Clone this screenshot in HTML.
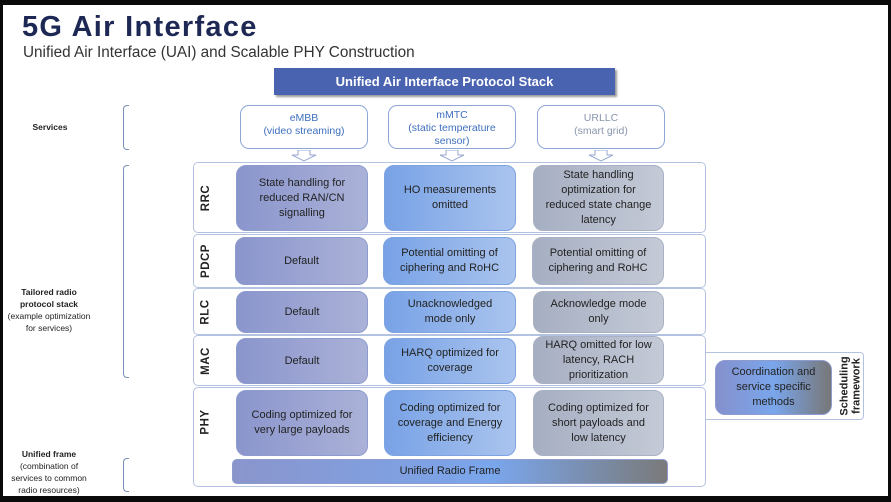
<!DOCTYPE html>
<html><head><meta charset="utf-8"><style>
*{margin:0;padding:0;box-sizing:border-box}
body{width:891px;height:502px;background:#0a0a0a;position:relative;overflow:hidden;font-family:"Liberation Sans",sans-serif}
.pg{position:absolute;left:3px;top:5px;width:885px;height:491px;background:#fff}
.a{position:absolute}
.t{font-family:"Liberation Sans",sans-serif;color:#333}
.cell{position:absolute;border-radius:10px;display:flex;align-items:center;justify-content:center;text-align:center;font-size:11px;line-height:15px;color:#222;border:1px solid #8d9bcf}
.c1{background:linear-gradient(90deg,#8a95cc,#abb2d8)}
.c2{background:linear-gradient(90deg,#78a2e6,#aac4ee);border-color:#7ea3e0}
.c3{background:linear-gradient(90deg,#a6aec2,#c4cad6);border-color:#a9b1c4}
.row{position:absolute;left:193px;width:513px;border:1px solid #b4c2e2;border-radius:5px;background:#fff}
.lab{position:absolute;left:196px;width:20px;display:flex;align-items:center;justify-content:center}
.lab span{transform:rotate(-90deg);font-size:11.5px;font-weight:bold;color:#222;white-space:nowrap;letter-spacing:.5px}
.svc{position:absolute;top:105px;width:128px;height:44px;border:1px solid #8ea6d6;border-radius:9px;text-align:center;font-size:10.5px;line-height:13px;color:#3e6fbf;padding-top:6px}
.arr{position:absolute;top:150px;width:26px;height:12px}
.small{position:absolute;font-size:8.5px;line-height:12px;color:#222;text-align:center}
.br{position:absolute;border:1px solid #7b8fb8;border-right:none;width:6px;border-radius:4px 0 0 4px}
</style></head><body>
<div class="pg"></div>
<div class="a" style="left:22px;top:11px;font-size:29px;font-weight:bold;color:#1e2854;letter-spacing:1.3px">5G Air Interface</div>
<div class="a t" style="left:23px;top:44px;font-size:15.3px;color:#333">Unified Air Interface (UAI) and Scalable PHY Construction</div>
<div class="a" style="left:274px;top:68px;width:341px;height:27px;background:#4a63b0;box-shadow:2px 2px 2px #999;color:#fff;font-weight:bold;font-size:13px;display:flex;align-items:center;justify-content:center">Unified Air Interface Protocol Stack</div>

<div class="small" style="left:30px;top:121px;width:40px;font-weight:bold">Services</div>
<div class="br" style="left:123px;top:105px;height:45px"></div>
<div class="small" style="left:5px;top:286px;width:88px"><b>Tailored radio protocol stack</b><br>(example optimization for services)</div>
<div class="br" style="left:123px;top:165px;height:213px"></div>
<div class="small" style="left:5px;top:448px;width:88px"><b>Unified frame</b><br>(combination of services to common radio resources)</div>
<div class="br" style="left:123px;top:458px;height:34px"></div>

<div class="svc" style="left:240px">eMBB<br>(video streaming)</div>
<div class="svc" style="left:388px;padding-top:3px">mMTC<br>(static temperature<br>sensor)</div>
<div class="svc" style="left:537px;color:#8a96ad">URLLC<br>(smart grid)</div>
<svg class="arr" style="left:291px" viewBox="0 0 26 12"><path d="M7 0H19V5H25L13 11L1 5H7Z" fill="#fff" stroke="#9aaad0"/></svg>
<svg class="arr" style="left:439px" viewBox="0 0 26 12"><path d="M7 0H19V5H25L13 11L1 5H7Z" fill="#fff" stroke="#9aaad0"/></svg>
<svg class="arr" style="left:588px" viewBox="0 0 26 12"><path d="M7 0H19V5H25L13 11L1 5H7Z" fill="#fff" stroke="#9aaad0"/></svg>

<div class="row" style="top:162px;height:71px"></div>
<div class="row" style="top:234px;height:54px"></div>
<div class="row" style="top:288px;height:47px"></div>
<div class="row" style="top:335px;height:51px"></div>
<div class="row" style="top:387px;height:100px"></div>
<div class="lab" style="top:162px;height:71px"><span>RRC</span></div>
<div class="lab" style="top:234px;height:54px"><span>PDCP</span></div>
<div class="lab" style="top:288px;height:47px"><span>RLC</span></div>
<div class="lab" style="top:335px;height:51px"><span>MAC</span></div>
<div class="lab" style="top:387px;height:70px"><span>PHY</span></div>

<div class="cell c1" style="left:236px;top:165px;width:132px;height:66px">State handling for<br>reduced RAN/CN<br>signalling</div>
<div class="cell c2" style="left:384px;top:165px;width:132px;height:66px">HO measurements<br>omitted</div>
<div class="cell c3" style="left:533px;top:165px;width:131px;height:66px">State handling<br>optimization for<br>reduced state change<br>latency</div>

<div class="cell c1" style="left:235px;top:237px;width:133px;height:48px">Default</div>
<div class="cell c2" style="left:383px;top:237px;width:133px;height:48px">Potential omitting of<br>ciphering and RoHC</div>
<div class="cell c3" style="left:532px;top:237px;width:132px;height:48px">Potential omitting of<br>ciphering and RoHC</div>

<div class="cell c1" style="left:236px;top:291px;width:132px;height:42px">Default</div>
<div class="cell c2" style="left:384px;top:291px;width:132px;height:42px">Unacknowledged<br>mode only</div>
<div class="cell c3" style="left:533px;top:291px;width:131px;height:42px">Acknowledge mode<br>only</div>

<div class="cell c1" style="left:236px;top:338px;width:132px;height:46px">Default</div>
<div class="cell c2" style="left:384px;top:338px;width:132px;height:46px">HARQ optimized for<br>coverage</div>
<div class="cell c3" style="left:533px;top:336px;width:131px;height:48px">HARQ omitted for low<br>latency, RACH<br>prioritization</div>

<div class="cell c1" style="left:236px;top:390px;width:132px;height:66px">Coding optimized for<br>very large payloads</div>
<div class="cell c2" style="left:384px;top:390px;width:132px;height:66px">Coding optimized for<br>coverage and Energy<br>efficiency</div>
<div class="cell c3" style="left:533px;top:390px;width:131px;height:66px">Coding optimized for<br>short payloads and<br>low latency</div>

<div class="cell" style="left:232px;top:459px;width:436px;height:25px;border-radius:5px;border-color:#8d9bcf;background:linear-gradient(90deg,#8a95cc,#7aa6ec 60%,#7a7a7a)">Unified Radio Frame</div>

<div class="a" style="left:706px;top:352px;width:158px;height:68px;border:1px solid #b4c2e2;border-left:none;border-radius:0 4px 4px 0;background:#fff"></div>
<div class="cell" style="left:715px;top:360px;width:117px;height:55px;border-color:#8d9bcf;background:linear-gradient(90deg,#8590cc,#7aa6ec 50%,#777)">Coordination and<br>service specific<br>methods</div>
<div class="a" style="left:838px;top:352px;width:26px;height:68px;display:flex;align-items:center;justify-content:center"><span style="transform:rotate(-90deg);font-size:11px;font-weight:bold;line-height:12px;text-align:center;white-space:nowrap;color:#222">Scheduling<br>framework</span></div>
</body></html>
